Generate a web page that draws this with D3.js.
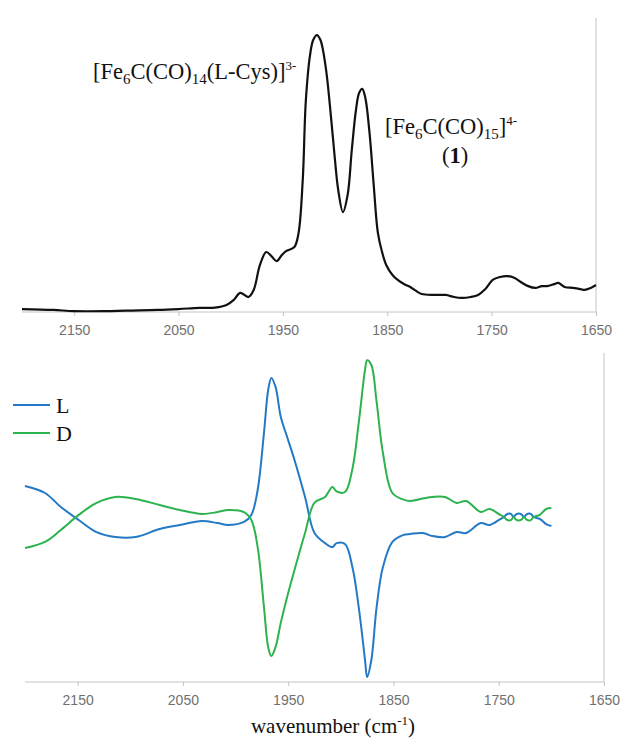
<!DOCTYPE html>
<meta charset="utf-8">
<script src="https://d3js.org/d3.v7.min.js"></script>
<style>
  body { margin: 0; background: #fff; }
  .tick text { font-family: "Liberation Sans", Arial, sans-serif; font-size: 14px; fill: #707070; }
  .serif { font-family: "Liberation Serif", "Times New Roman", serif; fill: #111; }
</style>
<body>
<div id="chart"></div>
<script>
// IR spectrum (top), wavenumber in cm-1 and relative absorbance
var irWave = [2200, 2170, 2150, 2120, 2100, 2070, 2050, 2030, 2015, 2004, 1997, 1991, 1983, 1978, 1972, 1966,
  1961, 1956, 1951, 1947, 1939, 1935, 1931, 1928, 1924, 1921, 1917.5, 1914, 1909, 1905, 1901, 1897, 1892.5,
  1888, 1884, 1880, 1877, 1874, 1871, 1867, 1863, 1859, 1855, 1851, 1845, 1840, 1834, 1828, 1822, 1817,
  1805, 1794, 1786, 1779, 1770, 1763, 1756, 1749, 1742, 1735, 1728, 1722, 1715, 1708, 1702, 1697, 1690,
  1686, 1680, 1672, 1665, 1661, 1655, 1650];
var irAbs = [1.0, 0.7, 0.3, 0.3, 0.5, 0.7, 1.0, 1.4, 1.5, 2.4, 4.1, 6.5, 5.1, 7.5, 16, 20.4,
  19, 17.3, 19.4, 20.7, 22.1, 26.9, 44.9, 72.1, 87.4, 92.5, 94.2, 92.5, 83.3, 70.4, 55.1, 41.5, 34,
  39.8, 55.1, 68.7, 74.5, 75.9, 72.8, 60.9, 43.2, 26.9, 20.4, 16, 12.6, 10.9, 9.5, 8.5, 7.1, 6.1,
  5.8, 5.8, 5.1, 4.8, 5.1, 5.8, 7.8, 10.9, 11.9, 12.2, 11.6, 10.2, 8.8, 8.2, 8.8, 8.8, 9.5,
  9.9, 8.5, 8.2, 7.8, 7.5, 8.2, 9.2];

// CD spectra (bottom)
var cdWave = [2200, 2181, 2166, 2149, 2132, 2114, 2095, 2072, 2053, 2032, 2017, 2007, 1992, 1985, 1979, 1973,
  1969, 1966, 1962, 1957, 1951, 1944, 1934, 1925, 1915, 1908, 1904, 1896, 1889, 1883, 1877, 1875, 1871,
  1866, 1860, 1851, 1841, 1834, 1822, 1813, 1801, 1790, 1781, 1767, 1759, 1749, 1745, 1742.5, 1740, 1738,
  1736, 1733.5, 1731, 1728.5, 1726, 1723.5, 1721, 1719, 1717, 1711, 1705, 1700];
var cdL = [19.4, 15, 6.3, -1.9, -9.4, -12.5, -12.5, -7.5, -5, -2.5, -3.8, -5, -3.1, 1.3, 16.9, 52.5,
  79.4, 86.9, 81.3, 62.5, 50, 35.6, 12.5, -10, -16.3, -18.8, -16.3, -16.9, -31.3, -56.3, -89.4, -100, -89.4,
  -56.3, -31.3, -15.6, -11.3, -10.6, -10, -11.9, -12.5, -9.4, -10, -3.8, -5, -1.5, 0, 1.7, 2.2, 1.7,
  0, 1.7, 2.2, 1.7, 0, 1.7, 2.2, 1.7, 0, -1.2, -4.4, -5.6];
var cdD = [-19.4, -15.6, -8.1, 1.3, 8.8, 12.5, 11.3, 7.5, 4.4, 1.9, 3.1, 4.4, 3.1, -1.9, -18.8, -56.3,
  -81.3, -86.9, -81.3, -66, -50, -33.1, -10, 9, 12.5, 18.8, 16, 15.6, 30, 58.8, 91.9, 98, 95,
  72, 40, 15, 11, 10, 11.5, 12.5, 12.5, 8.8, 10, 3.1, 5, 1.5, 0, -1.7, -2.2, -1.7,
  0, -1.7, -2.2, -1.7, 0, -1.7, -2.2, -1.7, 0, 1.3, 5, 5.6];

var xTicks = [2150, 2050, 1950, 1850, 1750, 1650];
var seriesNames = ["L", "D"];
var seriesColors = ["#2479c6", "#2cb34e"];

var width = 624, height = 739;
var svg = d3.select("#chart").append("svg")
  .attr("width", width).attr("height", height);

function drawAxis(x, yAxis, yTop) {
  var g = svg.append("g")
    .attr("transform", "translate(0," + yAxis + ")")
    .call(d3.axisBottom(x).tickValues(xTicks).tickSize(4).tickPadding(9).tickFormat(d3.format("d")));
  g.select(".domain").attr("stroke", "#c4c4c4").attr("d", "M" + x.range()[0] + ",0H" + x.range()[1]);
  g.selectAll(".tick line").attr("stroke", "#c4c4c4");
  // right frame line
  svg.append("line")
    .attr("x1", x.range()[1]).attr("x2", x.range()[1])
    .attr("y1", yTop).attr("y2", yAxis)
    .attr("stroke", "#c4c4c4");
}

// ---- top panel: IR ----
var x1 = d3.scaleLinear().domain([2200, 1650]).range([22, 596]);
var y1 = d3.scaleLinear().domain([0, 100]).range([312, 18]);
drawAxis(x1, 312, 18);

var irLine = d3.line()
  .x(function(d, i) { return x1(irWave[i]); })
  .y(function(d) { return y1(d); })
  .curve(d3.curveCatmullRom.alpha(0.5));
svg.append("path").datum(irAbs)
  .attr("d", irLine).attr("fill", "none")
  .attr("stroke", "#111").attr("stroke-width", 2.2);

// labels
var t1 = svg.append("text").attr("class", "serif").attr("x", 93).attr("y", 79).style("font-size", "22.5px");
t1.append("tspan").text("[Fe");
t1.append("tspan").text("6").attr("dy", 5).style("font-size", "15px");
t1.append("tspan").text("C(CO)").attr("dy", -5);
t1.append("tspan").text("14").attr("dy", 5).style("font-size", "15px");
t1.append("tspan").text("(L-Cys)]").attr("dy", -5);
t1.append("tspan").text("3-").attr("dy", -9).style("font-size", "13px");

var t2 = svg.append("text").attr("class", "serif").attr("x", 385).attr("y", 134).style("font-size", "22.5px");
t2.append("tspan").text("[Fe");
t2.append("tspan").text("6").attr("dy", 5).style("font-size", "15px");
t2.append("tspan").text("C(CO)").attr("dy", -5);
t2.append("tspan").text("15").attr("dy", 5).style("font-size", "15px");
t2.append("tspan").text("]").attr("dy", -5);
t2.append("tspan").text("4-").attr("dy", -9).style("font-size", "13px");

var t3 = svg.append("text").attr("class", "serif").attr("x", 455).attr("y", 163)
  .attr("text-anchor", "middle").style("font-size", "22.5px");
t3.append("tspan").text("(");
t3.append("tspan").text("1").style("font-weight", "bold");
t3.append("tspan").text(")");

// ---- bottom panel: CD ----
var x2 = d3.scaleLinear().domain([2200, 1650]).range([25, 604]);
var y2 = d3.scaleLinear().domain([-100, 100]).range([677, 357]);
drawAxis(x2, 682, 353);

var cdSeries = [cdL, cdD];
cdSeries.forEach(function(vals, k) {
  var line = d3.line()
    .x(function(d, i) { return x2(cdWave[i]); })
    .y(function(d) { return y2(d); })
    .curve(d3.curveCatmullRom.alpha(0.5));
  svg.append("path").datum(vals)
    .attr("d", line).attr("fill", "none")
    .attr("stroke", seriesColors[k]).attr("stroke-width", 2);
});

// legend
seriesNames.forEach(function(name, k) {
  var yy = 405 + k * 28;
  svg.append("line")
    .attr("x1", 13).attr("x2", 50).attr("y1", yy).attr("y2", yy)
    .attr("stroke", seriesColors[k]).attr("stroke-width", 2);
  svg.append("text").attr("class", "serif")
    .attr("x", 56).attr("y", yy + 8)
    .style("font-size", "22px")
    .text(name);
});

// x axis title
var xt = svg.append("text").attr("class", "serif")
  .attr("x", 333).attr("y", 733).attr("text-anchor", "middle").style("font-size", "21px");
xt.append("tspan").text("wavenumber  (cm");
xt.append("tspan").text("-1").attr("dy", -8).style("font-size", "13px");
xt.append("tspan").text(")").attr("dy", 8);
</script>
</body>
